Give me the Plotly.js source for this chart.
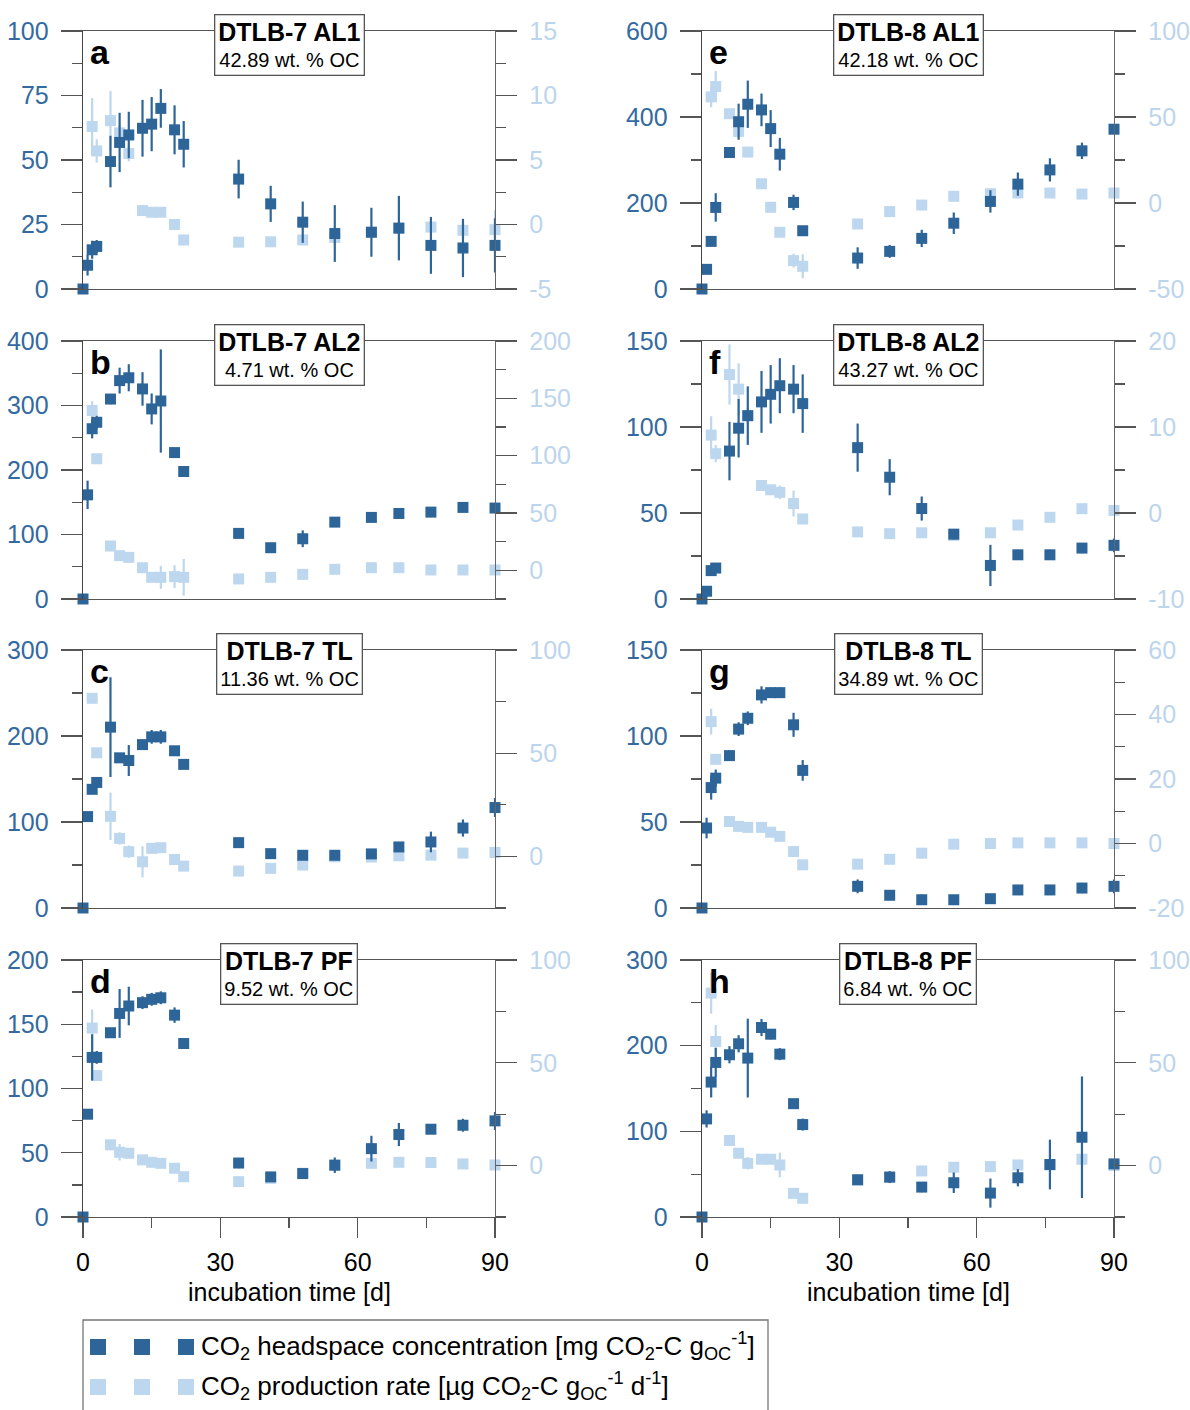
<!DOCTYPE html>
<html><head><meta charset="utf-8">
<script src="https://cdn.plot.ly/plotly-3.0.1.min.js"></script>
<style>html,body{margin:0;padding:0;background:#fff}</style>
</head><body><div id="chart" style="width:1190px;height:1410px"></div>
<script>
// ---------- data ----------
const days = [0, 1, 2, 3, 6, 8, 10, 13, 15, 17, 20, 22, 34, 41, 48, 55, 63, 69, 76, 83, 90];
const rateDays = [2, 3, 6, 8, 10, 13, 15, 17, 20, 22, 34, 41, 48, 55, 63, 69, 76, 83, 90];
const xTicks = [0, 30, 60, 90];

const sampleNames = ['DTLB-7 AL1', 'DTLB-7 AL2', 'DTLB-7 TL', 'DTLB-7 PF', 'DTLB-8 AL1', 'DTLB-8 AL2', 'DTLB-8 TL', 'DTLB-8 PF'];
const ocContent = ['42.89', '4.71', '11.36', '9.52', '42.18', '43.27', '34.89', '6.84'];
const panelLetters = ['a', 'b', 'c', 'd', 'e', 'f', 'g', 'h'];

// a  DTLB-7 AL1
const a_conc = [0, 9.2, 15.2, 16.5, 49.4, 56.8, 59.7, 62.3, 63.9, 70.0, 61.7, 56.1, 42.6, 33.0, 25.9, 21.5, 22.0, 23.6, 16.9, 15.9, 16.9];
const a_concErr = [0, 4, 3.5, 2.5, 10, 11.5, 9, 11, 10.5, 7.5, 9.5, 9, 7.5, 7, 8, 11, 9.5, 12.5, 11, 11.3, 10.5];
const a_rate = [7.6, 5.7, 8.05, 7.1, 5.5, 1.08, 0.95, 0.95, 0, -1.2, -1.37, -1.34, -1.2, -1.0, -0.6, -0.3, -0.2, -0.45, -0.4];
const a_rateErr = [2.2, 0.9, 2.3, 0.6, 0.6, 0.3, 0.2, 0.3, 0.4, 0.1, 0.1, 0.1, 0.2, 0.2, 0.2, 0.3, 0.3, 0.3, 1.5];
// b  DTLB-7 AL2
const b_conc = [0, 161.5, 264, 274, 310, 338.6, 343, 325.7, 294.7, 307, 227, 197.7, 101.7, 79.5, 93.4, 119.2, 126.5, 132.6, 134.7, 142, 141];
const b_concErr = [0, 22, 15, 10, 8, 20, 21, 26, 24, 80, 3, 3, 3, 3, 13, 3, 6, 6, 5, 3, 3];
const b_rate = [139.4, 97.3, 21.2, 12.8, 11.3, 2.3, -6.1, -6.1, -5.5, -6.1, -7.5, -6.1, -3.5, 0.9, 2.3, 2.3, 0.3, 0.3, 0.3];
const b_rateErr = [8, 2, 2, 2, 2, 2, 3, 10, 10, 16, 4, 2, 2, 2, 2, 2, 2, 2, 2];
// c  DTLB-7 TL
const c_conc = [0, 106.3, 138, 146, 210.3, 174.6, 171.5, 190, 199, 199, 182.8, 167, 76, 63.2, 61.3, 61.3, 62.9, 71, 76.8, 93, 116.8];
const c_concErr = [0, 2, 3, 3, 58, 4, 18, 3, 8, 8, 3, 2, 2, 2, 2, 3, 3, 4, 12, 10, 11];
const c_rate = [76.6, 50.2, 19.4, 8.7, 2.3, -2.6, 3.9, 4.2, -1.5, -4.7, -7.1, -5.8, -4.2, -0.2, -0.3, 0.3, 0.6, 1.6, 1.9];
const c_rateErr = [1, 1, 11.5, 3, 3, 7.5, 1, 1, 1, 1, 1, 1, 1, 1, 1, 1, 1, 1, 1];
// d  DTLB-7 PF
const d_conc = [0, 80, 124.2, 124.2, 143.4, 158.4, 164.2, 166.8, 169.4, 170.6, 157.1, 135, 42, 31.2, 33.8, 40.3, 53.2, 64.2, 68.3, 71.4, 74.8];
const d_concErr = [0, 3, 18, 5, 3, 19, 15, 5, 5, 5, 6, 4, 4, 2, 2, 6, 10, 9, 2, 5, 7];
const d_rate = [66.9, 43.8, 10.1, 6.5, 6, 2.8, 1.6, 1.1, -1.3, -5.4, -7.8, -6.2, -3.7, 0.3, 1.1, 1.6, 1.5, 0.8, 0.3];
const d_rateErr = [9, 1, 2, 4, 1, 1, 1, 1, 1, 1, 1, 1, 1, 1, 1, 1, 1, 1, 1];
// e  DTLB-8 AL1
const e_conc = [0, 45.7, 110.7, 189.7, 317.4, 389, 429.7, 416.5, 373, 313.5, 201.3, 135.5, 72, 87.5, 117.7, 153, 203.6, 243.9, 277, 321.3, 371.6];
const e_concErr = [0, 5, 10, 33, 12, 42, 55, 38, 43, 38, 18, 5, 25, 15, 20, 25, 26, 27, 27, 19, 5];
const e_rate = [61.7, 67.7, 51.9, 41.6, 29.6, 11.2, -2.5, -17, -33.5, -36.8, -12.2, -5, -1.2, 3.9, 5.4, 5.8, 5.8, 5.2, 5.8];
const e_rateErr = [6, 9, 1, 3, 1.5, 1, 1, 1.5, 4, 7, 1.5, 1, 1, 1, 1, 1, 1, 1, 1];
// f  DTLB-8 AL2
const f_conc = [0, 4.5, 16.5, 18, 86, 99.3, 106.6, 114.6, 119, 124, 122, 113.6, 88, 70.8, 52.6, 37.7, 19.5, 25.7, 25.7, 29.6, 31.2];
const f_concErr = [0, 1, 3, 2, 17, 17, 17, 18, 17, 16, 14, 17, 14, 10.5, 7, 3, 12, 3, 3, 3, 4];
const f_rate = [9.06, 6.9, 16.1, 14.4, 11.3, 3.2, 2.7, 2.4, 1.1, -0.7, -2.2, -2.4, -2.3, -2.6, -2.3, -1.4, -0.5, 0.5, 0.3];
const f_rateErr = [2.2, 1, 3.5, 3, 1, 0.3, 0.4, 0.8, 1.5, 0.3, 0.3, 0.3, 0.3, 0.3, 0.3, 0.3, 0.3, 0.3, 0.3];
// g  DTLB-8 TL
const g_conc = [0, 46.5, 70, 75.5, 88.6, 104, 110.3, 123.9, 125.2, 125.2, 106.5, 80, 12.6, 7.4, 4.8, 4.8, 5.4, 10.5, 10.5, 11.6, 12.6];
const g_concErr = [0, 6, 7, 5, 3, 4, 4, 5, 3, 3, 7, 6, 4, 2, 3, 2, 2, 2, 2, 3, 4];
const g_rate = [37.8, 26.1, 6.8, 5.3, 5, 5, 3.5, 2.2, -2.5, -6.6, -6.4, -4.9, -3, -0.2, 0, 0.2, 0.2, 0.2, 0];
const g_rateErr = [4, 1, 1, 1, 1, 1, 1, 1, 1, 1, 1, 1, 1, 1, 1, 1, 1, 1, 1];
// h  DTLB-8 PF
const h_conc = [0, 114.5, 157.5, 180.4, 189.4, 202.2, 185.5, 221.2, 213.4, 190.1, 132.3, 107.9, 43.5, 46.6, 34.9, 40, 27.9, 45.8, 61.3, 93.1, 62];
const h_concErr = [0, 10, 18, 17, 10, 10, 46, 10, 6, 7, 4, 7, 2, 7, 6, 12, 17, 10, 29, 71, 2];
const h_rate = [83.9, 60.4, 12.2, 6, 1.1, 3.1, 3.1, 0.3, -13.5, -15.9, -7.1, -5.7, -2.6, -0.8, -0.5, 0.3, 0.3, 3.1, 0];
const h_rateErr = [10, 8, 1, 1, 3, 1, 2, 6, 1, 1, 1, 1, 1, 1, 1, 1, 1, 1, 1];

// axis ranges: [concMin, concMax], concStep, [rateMin, rateMax], rateStep
const concRanges = [[0,100],[0,400],[0,300],[0,200],[0,600],[0,150],[0,150],[0,300]];
const concSteps = [25, 100, 100, 50, 200, 50, 50, 100];
const rateRanges = [[-5,15],[-25,200],[-25,100],[-25,100],[-50,100],[-10,20],[-20,60],[-25,100]];
const rateSteps = [5, 50, 50, 50, 50, 10, 20, 50];

const legendConc = 'CO<sub>2</sub> headspace concentration [mg CO<sub>2</sub>-C g<sub>OC</sub><sup>-1</sup>]';
const legendRate = 'CO<sub>2</sub> production rate [µg CO<sub>2</sub>-C g<sub>OC</sub><sup>-1</sup> d<sup>-1</sup>]';
const xTitle = 'incubation time [d]';

const concData = [a_conc, b_conc, c_conc, d_conc, e_conc, f_conc, g_conc, h_conc];
const concErrs = [a_concErr, b_concErr, c_concErr, d_concErr, e_concErr, f_concErr, g_concErr, h_concErr];
const rateData = [a_rate, b_rate, c_rate, d_rate, e_rate, f_rate, g_rate, h_rate];
const rateErrs = [a_rateErr, b_rateErr, c_rateErr, d_rateErr, e_rateErr, f_rateErr, g_rateErr, h_rateErr];

// ---------- style / layout ----------
const W = 1190, H = 1410;
const DARK = '#2e6599', LIGHT = '#bdd7ee';
const DARKTXT = '#346a9f', LIGHTTXT = '#bcd5ec';
const FONT = 'Liberation Sans, Arial, sans-serif';
const cols = [[83, 495], [702, 1114]];
const rows = [[31, 289], [341, 599], [650, 908], [960, 1217]];

// tick values with plain hyphen minus labels
function ticksFor(range, step) {
  const vals = [];
  for (let v = Math.ceil(range[0] / step - 1e-9) * step; v <= range[1] + 1e-9; v += step) vals.push(+v.toFixed(6));
  return {tickvals: vals, ticktext: vals.map(v => String(v))};
}

const id = (p, k) => k === 1 ? p : p + k;
const traces = [];
const layout = {
  width: W, height: H, margin: {l: 0, r: 0, t: 0, b: 0},
  paper_bgcolor: '#fff', plot_bgcolor: 'rgba(0,0,0,0)',
  showlegend: false, font: {family: FONT, size: 25, color: '#000'},
  annotations: [], shapes: []
};

for (let i = 0; i < 8; i++) {
  const n = i + 1;
  const col = cols[Math.floor(i / 4)], row = rows[i % 4];
  const bottom = (i % 4) === 3;
  const xN = n, yR = 2 * n - 1, yL = 2 * n;
  const xd = [col[0] / W, col[1] / W];
  const yd = [1 - row[1] / H, 1 - row[0] / H];
  const ph = row[1] - row[0], pw = col[1] - col[0];

  traces.push({
    type: 'scatter', mode: 'markers', x: rateDays, y: rateData[i],
    xaxis: id('x', xN), yaxis: id('y', yR), cliponaxis: false,
    marker: {symbol: 'square', size: 11, color: LIGHT},
    error_y: {type: 'data', array: rateErrs[i], visible: true, color: LIGHT, thickness: 2.2, width: 0}
  });
  traces.push({
    type: 'scatter', mode: 'markers', x: days, y: concData[i],
    xaxis: id('x', xN), yaxis: id('y', yL), cliponaxis: false,
    marker: {symbol: 'square', size: 11, color: DARK},
    error_y: {type: 'data', array: concErrs[i], visible: true, color: DARK, thickness: 2.2, width: 0}
  });

  layout[id('xaxis', xN)] = {
    domain: xd, anchor: id('y', yR), range: [0, 90], fixedrange: true,
    showline: true, mirror: true, linecolor: '#555', linewidth: 1.3,
    showgrid: false, zeroline: false,
    tickmode: 'array', tickvals: xTicks, ticktext: xTicks.map(String),
    ticks: bottom ? 'outside' : '', ticklen: 20, tickwidth: 1.3, tickcolor: '#555',
    showticklabels: bottom, tickfont: {size: 25, color: '#000', family: FONT},
    ticklabelstandoff: 3,
    minor: bottom ? {ticks: 'outside', ticklen: 10, tickwidth: 1.3, tickcolor: '#555', tickmode: 'linear', dtick: 15, tick0: 0, showgrid: false} : {ticks: ''}
  };
  const rt = ticksFor(rateRanges[i], rateSteps[i]);
  layout[id('yaxis', yR)] = {
    domain: yd, anchor: id('x', xN), side: 'right', range: rateRanges[i], fixedrange: true,
    tickmode: 'array', tickvals: rt.tickvals, ticktext: rt.ticktext,
    ticks: 'outside', ticklen: 21, tickwidth: 1.3, tickcolor: '#555',
    showline: true, linecolor: '#666', linewidth: 1.3, showgrid: false, zeroline: false,
    tickfont: {size: 25, color: LIGHTTXT, family: FONT}, ticklabelstandoff: 7,
    minor: {ticks: 'outside', ticklen: 10, tickwidth: 1.3, tickcolor: '#555', tickmode: 'linear', dtick: rateSteps[i] / 2, tick0: 0, showgrid: false}
  };
  const lt = ticksFor(concRanges[i], concSteps[i]);
  layout[id('yaxis', yL)] = {
    overlaying: id('y', yR), anchor: id('x', xN), side: 'left', range: concRanges[i], fixedrange: true,
    tickmode: 'array', tickvals: lt.tickvals, ticktext: lt.ticktext,
    ticks: 'outside', ticklen: 21, tickwidth: 1.3, tickcolor: '#555',
    showline: true, linecolor: '#444', linewidth: 1.3, showgrid: false, zeroline: false,
    tickfont: {size: 25, color: DARKTXT, family: FONT}, ticklabelstandoff: 7,
    minor: {ticks: 'outside', ticklen: 10, tickwidth: 1.3, tickcolor: '#555', tickmode: 'linear', dtick: concSteps[i] / 2, tick0: 0, showgrid: false}
  };

  const xref = id('x', xN) + ' domain', yref = id('y', yR) + ' domain';
  // panel letter
  layout.annotations.push({
    xref, yref, x: 5 / pw, y: 1 - 21 / ph, xanchor: 'left', yanchor: 'middle',
    text: '<b>' + panelLetters[i] + '</b>', showarrow: false,
    font: {size: 34, color: '#000', family: FONT}
  });
  // sample box
  layout.annotations.push({
    xref, yref, x: 0.5, y: 1 - 14 / ph, xanchor: 'center', yanchor: 'middle',
    text: '<b><span style="font-size:25px">' + sampleNames[i] + '</span></b><br>' + ocContent[i] + ' wt. % OC',
    showarrow: false, align: 'center',
    font: {size: 20, color: '#000', family: FONT},
    bgcolor: '#fff', bordercolor: '#555', borderwidth: 1.3, borderpad: 3
  });
  if (bottom) {
    layout.annotations.push({
      xref: 'paper', yref: 'paper', x: (col[0] + col[1]) / 2 / W, y: 1 - 1292 / H,
      xanchor: 'center', yanchor: 'middle', text: xTitle, showarrow: false,
      font: {size: 25, color: '#000', family: FONT}
    });
  }
}

// legend box (drawn as layout decoration)
const px = v => v / W, py = v => 1 - v / H;
layout.shapes.push({type: 'rect', xref: 'paper', yref: 'paper', x0: px(83), x1: px(768), y0: py(1425), y1: py(1320),
  line: {color: '#777', width: 1.3}, fillcolor: 'rgba(0,0,0,0)', layer: 'above'});
[98, 142, 186].forEach(cx => {
  layout.shapes.push({type: 'rect', xref: 'paper', yref: 'paper', x0: px(cx - 8), x1: px(cx + 8), y0: py(1355), y1: py(1339),
    line: {width: 0}, fillcolor: DARK});
  layout.shapes.push({type: 'rect', xref: 'paper', yref: 'paper', x0: px(cx - 8), x1: px(cx + 8), y0: py(1395), y1: py(1379),
    line: {width: 0}, fillcolor: LIGHT});
});
layout.annotations.push({xref: 'paper', yref: 'paper', x: px(199), y: py(1346), xanchor: 'left', yanchor: 'middle',
  text: legendConc, showarrow: false, font: {size: 26, color: '#000', family: FONT}});
layout.annotations.push({xref: 'paper', yref: 'paper', x: px(199), y: py(1386), xanchor: 'left', yanchor: 'middle',
  text: legendRate, showarrow: false, font: {size: 26, color: '#000', family: FONT}});

Plotly.newPlot('chart', traces, layout, {staticPlot: true, displayModeBar: false});
</script>
</body></html>
